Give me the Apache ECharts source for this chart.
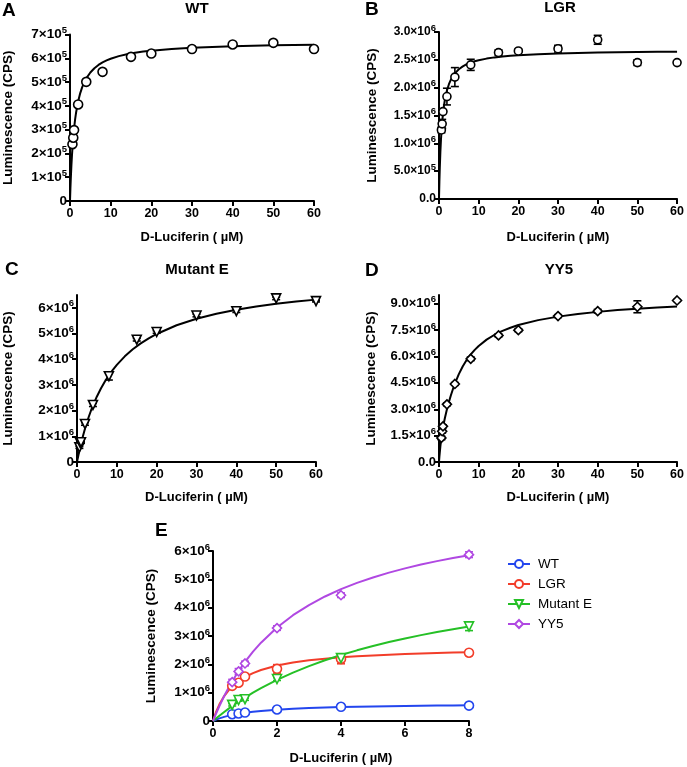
<!DOCTYPE html>
<html>
<head>
<meta charset="utf-8">
<script src="https://cdn.jsdelivr.net/npm/echarts@6/dist/echarts.min.js"></script>
<style>html,body{margin:0;padding:0;background:#fff;}#c{width:687px;height:767px;}</style>
</head>
<body>
<div id="c"></div>
<script>
// ---------- data ----------
var conc = [0.6, 0.8, 1, 2, 4, 8, 15, 20, 30, 40, 50, 60];
var wtVals = [2.39e5, 2.66e5, 2.98e5, 4.06e5, 5.01e5, 5.43e5, 6.06e5, 6.20e5, 6.39e5, 6.58e5, 6.65e5, 6.39e5];
var lgrVals = [1.24e6, 1.35e6, 1.57e6, 1.84e6, 2.19e6, 2.41e6, 2.63e6, 2.66e6, 2.70e6, 2.86e6, 2.45e6, 2.45e6];
var lgrErr  = [0.05e6, 0.08e6, 0.03e6, 0.15e6, 0.17e6, 0.10e6, 0.05e6, 0.03e6, 0.06e6, 0.08e6, 0.05e6, 0.02e6];
var mutVals = [0.57e6, 0.74e6, 0.77e6, 1.48e6, 2.22e6, 3.34e6, 4.76e6, 5.06e6, 5.70e6, 5.87e6, 6.37e6, 6.26e6];
var mutErr  = [0.04e6, 0.04e6, 0.04e6, 0.05e6, 0.06e6, 0.15e6, 0.05e6, 0.05e6, 0.05e6, 0.05e6, 0.05e6, 0.03e6];
var yy5Vals = [1.37e6, 1.75e6, 2.03e6, 3.28e6, 4.44e6, 5.87e6, 7.20e6, 7.50e6, 8.30e6, 8.58e6, 8.83e6, 9.19e6];
var yy5Err  = [0.10e6, 0.10e6, 0.08e6, 0.08e6, 0.08e6, 0.10e6, 0.08e6, 0.08e6, 0.08e6, 0.10e6, 0.34e6, 0.05e6];

var curveX = [0, 0.1, 0.2, 0.35, 0.5, 0.75, 1, 1.25, 1.5, 2, 2.5, 3, 3.5, 4, 5, 6, 7, 8, 9, 10, 12, 14, 16, 18, 20, 25, 30, 35, 40, 45, 50, 55, 60];
var wtCurve  = [0, 0.515e5, 0.957e5, 1.513e5, 1.971e5, 2.577e5, 3.045e5, 3.418e5, 3.722e5, 4.188e5, 4.527e5, 4.786e5, 4.989e5, 5.154e5, 5.403e5, 5.583e5, 5.720e5, 5.826e5, 5.912e5, 5.982e5, 6.091e5, 6.171e5, 6.233e5, 6.281e5, 6.321e5, 6.393e5, 6.442e5, 6.478e5, 6.505e5, 6.526e5, 6.543e5, 6.557e5, 6.569e5];
var lgrCurve = [0, 0.315e6, 0.564e6, 0.853e6, 1.072e6, 1.340e6, 1.531e6, 1.675e6, 1.787e6, 1.949e6, 2.062e6, 2.144e6, 2.207e6, 2.257e6, 2.330e6, 2.382e6, 2.421e6, 2.450e6, 2.474e6, 2.493e6, 2.522e6, 2.544e6, 2.560e6, 2.573e6, 2.583e6, 2.602e6, 2.615e6, 2.624e6, 2.631e6, 2.636e6, 2.640e6, 2.644e6, 2.647e6];
var mutCurve = [0, 0.078e6, 0.154e6, 0.265e6, 0.372e6, 0.545e6, 0.709e6, 0.865e6, 1.014e6, 1.292e6, 1.547e6, 1.780e6, 1.996e6, 2.195e6, 2.552e6, 2.863e6, 3.135e6, 3.376e6, 3.590e6, 3.782e6, 4.113e6, 4.386e6, 4.617e6, 4.813e6, 4.983e6, 5.321e6, 5.573e6, 5.767e6, 5.923e6, 6.050e6, 6.155e6, 6.244e6, 6.320e6];
var yy5Curve = [0, 0.30e6, 0.55e6, 0.90e6, 1.20e6, 1.62e6, 1.95e6, 2.25e6, 2.52e6, 3.00e6, 3.42e6, 3.80e6, 4.14e6, 4.46e6, 5.00e6, 5.45e6, 5.82e6, 6.12e6, 6.38e6, 6.60e6, 6.96e6, 7.24e6, 7.46e6, 7.64e6, 7.79e6, 8.07e6, 8.27e6, 8.42e6, 8.54e6, 8.64e6, 8.72e6, 8.79e6, 8.85e6];

// fitted curves
var eCurveX = [0, 0.1, 0.2, 0.35, 0.5, 0.75, 1, 1.25, 1.5, 2, 2.5, 3, 3.5, 4, 4.5, 5, 5.5, 6, 6.5, 7, 7.5, 8];
var eWtCurve  = [0, 0.050e6, 0.092e6, 0.145e6, 0.189e6, 0.247e6, 0.291e6, 0.327e6, 0.356e6, 0.400e6, 0.432e6, 0.456e6, 0.476e6, 0.491e6, 0.504e6, 0.515e6, 0.524e6, 0.532e6, 0.539e6, 0.545e6, 0.550e6, 0.555e6];
var eLgrCurve = [0, 0.330e6, 0.587e6, 0.880e6, 1.100e6, 1.366e6, 1.553e6, 1.692e6, 1.800e6, 1.956e6, 2.063e6, 2.141e6, 2.200e6, 2.247e6, 2.285e6, 2.316e6, 2.342e6, 2.364e6, 2.383e6, 2.400e6, 2.415e6, 2.428e6];
var eMutCurve = [0, 0.095e6, 0.187e6, 0.319e6, 0.445e6, 0.644e6, 0.828e6, 1.000e6, 1.160e6, 1.451e6, 1.708e6, 1.937e6, 2.142e6, 2.327e6, 2.494e6, 2.647e6, 2.786e6, 2.913e6, 3.031e6, 3.139e6, 3.240e6, 3.333e6];
var eYy5Curve = [0, 0.274e6, 0.530e6, 0.882e6, 1.203e6, 1.676e6, 2.087e6, 2.447e6, 2.764e6, 3.300e6, 3.734e6, 4.093e6, 4.395e6, 4.652e6, 4.874e6, 5.067e6, 5.237e6, 5.387e6, 5.522e6, 5.642e6, 5.751e6, 5.850e6];
var eCount = 6; // first six concentrations shown in panel E

// axes ticks and labels
var xTicks60 = [0, 10, 20, 30, 40, 50, 60];
var xTicks8 = [0, 2, 4, 6, 8];
var yTicksA = [0, 1e5, 2e5, 3e5, 4e5, 5e5, 6e5, 7e5];
var yLabelsA = ['0', '1×10^5', '2×10^5', '3×10^5', '4×10^5', '5×10^5', '6×10^5', '7×10^5'];
var yTicksB = [0, 0.5e6, 1e6, 1.5e6, 2e6, 2.5e6, 3e6];
var yLabelsB = ['0.0', '5.0×10^5', '1.0×10^6', '1.5×10^6', '2.0×10^6', '2.5×10^6', '3.0×10^6'];
var yTicksC = [0, 1e6, 2e6, 3e6, 4e6, 5e6, 6e6];
var yLabelsC = ['0', '1×10^6', '2×10^6', '3×10^6', '4×10^6', '5×10^6', '6×10^6'];
var yTicksD = [0, 1.5e6, 3e6, 4.5e6, 6e6, 7.5e6, 9e6];
var yLabelsD = ['0.0', '1.5×10^6', '3.0×10^6', '4.5×10^6', '6.0×10^6', '7.5×10^6', '9.0×10^6'];
var yTicksE = [0, 1e6, 2e6, 3e6, 4e6, 5e6, 6e6];
var yLabelsE = ['0', '1×10^6', '2×10^6', '3×10^6', '4×10^6', '5×10^6', '6×10^6'];

var panelTitles = ['WT', 'LGR', 'Mutant E', 'YY5'];
var panelLetters = ['A', 'B', 'C', 'D', 'E'];
var strainNames = ['WT', 'LGR', 'Mutant E', 'YY5'];
var xName = 'D-Luciferin ( µM)';
var yName = 'Luminescence (CPS)';

// ---------- styling ----------
var FF = '"Liberation Sans", Arial, Helvetica, sans-serif';
var colors = ['#2346ee', '#f23d2a', '#25c026', '#b048e2'];
var symbols = ['circle', 'circle', 'triangle', 'diamond'];
var rotates = [0, 0, 180, 0];

function zip(xs, ys, n) {
  var out = [];
  for (var i = 0; i < (n || xs.length); i++) out.push([xs[i], ys[i]]);
  return out;
}
function zip3(xs, ys, es, n) {
  var out = [];
  for (var i = 0; i < (n || xs.length); i++) out.push([xs[i], ys[i], es[i]]);
  return out;
}
function labelFmt(ticks, labels) {
  return function (v) {
    for (var i = 0; i < ticks.length; i++) {
      if (Math.abs(ticks[i] - v) < 1e-6 * Math.max(1, Math.abs(v))) {
        var p = labels[i].split('^');
        return p.length > 1 ? '{m|' + p[0] + '}{s|' + p[1] + '}' : '{m|' + p[0] + '}';
      }
    }
    return '';
  };
}
function richFor(size) {
  return {
    m: { fontSize: size, fontWeight: 'bold', fontFamily: FF, color: '#000', lineHeight: 18 },
    s: { fontSize: 9.5, fontWeight: 'bold', fontFamily: FF, color: '#000', lineHeight: 9, verticalAlign: 'top' }
  };
}
var axLine = { show: true, onZero: false, lineStyle: { color: '#000', width: 2 } };

function xAx(idx, max, ticks, gap) {
  return {
    type: 'value', gridIndex: idx, min: 0, max: max,
    axisLine: axLine,
    axisTick: { show: true, length: 5, lineStyle: { color: '#000', width: 2 }, customValues: ticks },
    axisLabel: { customValues: ticks, color: '#000', fontSize: 12.5, fontWeight: 'bold', fontFamily: FF, margin: 6 },
    splitLine: { show: false },
    name: xName, nameLocation: 'middle', nameGap: gap,
    nameTextStyle: { color: '#000', fontSize: 13, fontWeight: 'bold', fontFamily: FF }
  };
}
function yAx(idx, max, ticks, labels, gap, size) {
  return {
    type: 'value', gridIndex: idx, min: 0, max: max,
    axisLine: axLine,
    axisTick: { show: true, length: 5, lineStyle: { color: '#000', width: 2 }, customValues: ticks },
    axisLabel: { customValues: ticks, formatter: labelFmt(ticks, labels), rich: richFor(size), margin: 3 },
    splitLine: { show: false },
    name: yName, nameLocation: 'middle', nameGap: gap,
    nameTextStyle: { color: '#000', fontSize: 13.5, fontWeight: 'bold', fontFamily: FF }
  };
}
function errSeries(idx, data, color, capW, z) {
  return {
    type: 'custom', xAxisIndex: idx, yAxisIndex: idx, z: z || 2, silent: true,
    data: data,
    renderItem: function (params, api) {
      var x = api.value(0), y = api.value(1), e = api.value(2);
      var top = api.coord([x, y + e]);
      var bot = api.coord([x, y - e]);
      var st = { stroke: color, lineWidth: 1.6, fill: null };
      return {
        type: 'group',
        children: [
          { type: 'line', shape: { x1: top[0], y1: top[1], x2: bot[0], y2: bot[1] }, style: st },
          { type: 'line', shape: { x1: top[0] - capW, y1: top[1], x2: top[0] + capW, y2: top[1] }, style: st },
          { type: 'line', shape: { x1: bot[0] - capW, y1: bot[1], x2: bot[0] + capW, y2: bot[1] }, style: st }
        ]
      };
    }
  };
}
function curveSeries(idx, name, data, color) {
  return {
    type: 'line', name: name, xAxisIndex: idx, yAxisIndex: idx, data: data,
    smooth: false, showSymbol: false, symbol: 'none', silent: true,
    lineStyle: { color: color, width: 2, join: 'round' }, z: 3
  };
}
function pointSeries(idx, name, data, color, sym, rot, size) {
  return {
    type: 'scatter', name: name, xAxisIndex: idx, yAxisIndex: idx, data: data,
    symbol: sym, symbolRotate: rot, symbolSize: size, silent: true,
    itemStyle: { color: '#fff', borderColor: color, borderWidth: 1.6, opacity: 1 }, z: 4
  };
}

var grids = [
  { left: 69, top: 34.5, width: 245, height: 166.5 },
  { left: 439, top: 32, width: 242, height: 167 },
  { left: 76, top: 295, width: 240, height: 167 },
  { left: 439, top: 295, width: 241, height: 167 },
  { left: 213, top: 551, width: 256, height: 170 }
];

var series = [];
// A
series.push(curveSeries(0, 'A fit', zip(curveX, wtCurve), '#000'));
series.push(pointSeries(0, 'A pts', zip(conc, wtVals), '#000', 'circle', 0, 9));
// B
series.push(errSeries(1, zip3(conc, lgrVals, lgrErr), '#000', 4));
series.push(curveSeries(1, 'B fit', zip(curveX, lgrCurve), '#000'));
series.push(pointSeries(1, 'B pts', zip(conc, lgrVals), '#000', 'circle', 0, 8));
// C
series.push(errSeries(2, zip3(conc, mutVals, mutErr), '#000', 4));
series.push(curveSeries(2, 'C fit', zip(curveX, mutCurve), '#000'));
series.push(pointSeries(2, 'C pts', zip(conc, mutVals), '#000', 'triangle', 180, 9));
// D
series.push(errSeries(3, zip3(conc, yy5Vals, yy5Err), '#000', 4));
series.push(curveSeries(3, 'D fit', zip(curveX, yy5Curve), '#000'));
series.push(pointSeries(3, 'D pts', zip(conc, yy5Vals), '#000', 'diamond', 0, 9));
// E
var eVals = [wtVals, lgrVals, mutVals, yy5Vals];
var eErrs = [null, lgrErr, mutErr, yy5Err];
var eCurves = [eWtCurve, eLgrCurve, eMutCurve, eYy5Curve];
for (var k = 0; k < 4; k++) {
  if (eErrs[k]) series.push(errSeries(4, zip3(conc, eVals[k], eErrs[k], eCount), colors[k], 4, 2));
}
for (var k = 0; k < 4; k++) {
  var cs = curveSeries(4, strainNames[k], zip(eCurveX, eCurves[k]), colors[k]);
  cs.symbol = symbols[k];
  cs.symbolRotate = rotates[k];
  cs.itemStyle = { color: '#fff', borderColor: colors[k], borderWidth: 1.6 };
  series.push(cs);
}
for (var k = 0; k < 4; k++) {
  series.push(pointSeries(4, strainNames[k] + ' pts', zip(conc, eVals[k], eCount), colors[k], symbols[k], rotates[k], 9));
}

var graphics = [];
var letterPos = [[2, 11], [365, 10], [5, 270], [365, 271], [155, 531]];
for (var i = 0; i < 5; i++) {
  graphics.push({ type: 'text', x: letterPos[i][0], y: letterPos[i][1],
    style: { text: panelLetters[i], font: 'bold 19px ' + FF, fill: '#000',
      textAlign: 'left', textVerticalAlign: 'middle', align: 'left', verticalAlign: 'middle' } });
}
var titlePos = [[197, 9], [560, 8], [197, 270], [559, 270]];
for (var i = 0; i < 4; i++) {
  graphics.push({ type: 'text', x: titlePos[i][0], y: titlePos[i][1],
    style: { text: panelTitles[i], font: 'bold 15px ' + FF, fill: '#000',
      textAlign: 'center', textVerticalAlign: 'middle', align: 'center', verticalAlign: 'middle' } });
}

var option = {
  backgroundColor: '#fff',
  animation: false,
  grid: grids,
  xAxis: [xAx(0, 60, xTicks60, 30), xAx(1, 60, xTicks60, 32), xAx(2, 60, xTicks60, 29), xAx(3, 60, xTicks60, 29), xAx(4, 8, xTicks8, 31)],
  yAxis: [yAx(0, 7e5, yTicksA, yLabelsA, 55, 13.5), yAx(1, 3e6, yTicksB, yLabelsB, 60, 12), yAx(2, 6.5e6, yTicksC, yLabelsC, 62, 13.5), yAx(3, 9.5e6, yTicksD, yLabelsD, 61, 13), yAx(4, 6e6, yTicksE, yLabelsE, 55, 13.5)],
  legend: {
    data: strainNames, orient: 'vertical', left: 502, top: 552,
    itemWidth: 22, itemHeight: 10, itemGap: 6,
    textStyle: { color: '#000', fontSize: 13.5, fontFamily: FF, padding: [0, 0, 0, 3] },
    selectedMode: false
  },
  graphic: graphics,
  series: series
};
var chart = echarts.init(document.getElementById('c'), null, { renderer: 'canvas' });
chart.setOption(option);
</script>
</body>
</html>
